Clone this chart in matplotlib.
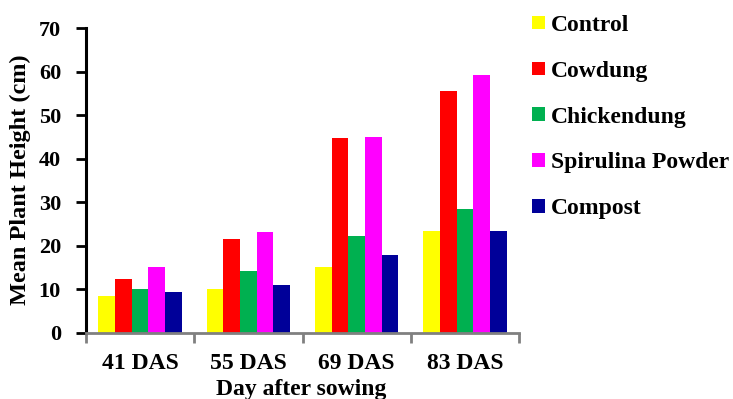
import matplotlib
matplotlib.use("Agg")
import matplotlib.pyplot as plt
import numpy as np

categories = ["41 DAS", "55 DAS", "69 DAS", "83 DAS"]
series_names = ["Control", "Cowdung", "Chickendung", "Spirulina Powder", "Compost"]
control = [8.6, 10.2, 15.2, 23.5]
cowdung = [12.5, 21.5, 44.7, 55.5]
chickendung = [10.0, 14.3, 22.3, 28.5]
spirulina = [15.1, 23.1, 45.0, 59.1]
compost = [9.3, 11.1, 17.8, 23.5]
colors = ["#FFFF00", "#FF0000", "#00B050", "#FF00FF", "#000099"]
y_ticks = [0, 10, 20, 30, 40, 50, 60, 70]

plt.rcParams['font.family'] = ['Liberation Serif', 'DejaVu Serif']
plt.rcParams['font.weight'] = 'bold'

W, H = 733, 399
fig = plt.figure(figsize=(W / 100, H / 100), dpi=100)
ax = fig.add_axes([86 / W, 1 - 333 / H, 433 / W, 305 / H])

data = [control, cowdung, chickendung, spirulina, compost]
x = np.arange(len(categories))
bw = 0.154
for i, (name, vals, c) in enumerate(zip(series_names, data, colors)):
    ax.bar(x + (i - 2) * bw, vals, width=bw, color=c, label=name,
           edgecolor='none', linewidth=0)

ax.set_xlim(-0.5, 3.5)
ax.set_ylim(0, 70)
ax.set_yticks(y_ticks)
ax.set_yticklabels([str(v) for v in y_ticks], fontsize=16, fontweight='bold')
ax.set_xticks(x)
ax.set_xticklabels(categories, fontsize=17, fontweight='bold')
ax.set_xticks(np.arange(-0.5, 4.0, 1.0), minor=True)
ax.tick_params(axis='x', which='major', length=0, pad=14.5)
ax.tick_params(axis='x', which='minor', length=7, width=2, color='#808080', direction='out')
ax.tick_params(axis='y', which='major', length=7, width=2, color='black', direction='out', pad=11)

for s in ['top', 'right']:
    ax.spines[s].set_visible(False)
ax.spines['left'].set_linewidth(2.2)
ax.spines['left'].set_color('black')
ax.spines['bottom'].set_linewidth(2)
ax.spines['bottom'].set_color('#808080')

fig.text(20 / W, 1 - 180 / H, "Mean Plant Height (cm)", rotation=90,
         ha='center', va='center', fontsize=17.5, fontweight='bold')
fig.text(301 / W, 1 - 395 / H, "Day after sowing", ha='center', va='baseline',
         fontsize=17, fontweight='bold')

handles, labels = ax.get_legend_handles_labels()
leg = fig.legend(handles, labels, loc='upper left', bbox_to_anchor=(532 / W, 1 - 15 / H),
                 frameon=False, fontsize=17, handlelength=0.55, handleheight=0.5,
                 handletextpad=0.25, labelspacing=1.05, borderaxespad=0, borderpad=0)
for t in leg.get_texts():
    t.set_fontweight('bold')

fig.savefig("out.png", dpi=100)
